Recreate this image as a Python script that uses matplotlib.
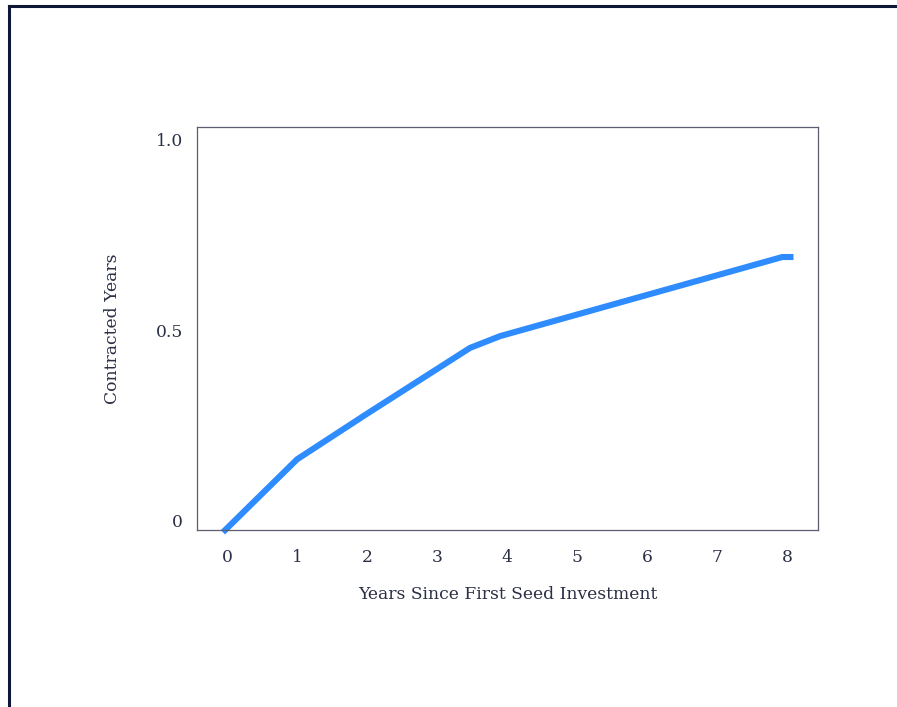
import matplotlib
matplotlib.use("Agg")
import matplotlib.pyplot as plt
from matplotlib.lines import Line2D

years = [-0.06, 1.0, 2.0, 3.47, 3.9, 7.93, 8.09]
contracted = [-0.032, 0.16, 0.28, 0.453, 0.484, 0.692, 0.692]
xticks = [0, 1, 2, 3, 4, 5, 6, 7, 8]
yticks = [0, 0.5, 1.0]
yticklabels = ["0", "0.5", "1.0"]

W, H = 897, 707
fig = plt.figure(figsize=(W / 100, H / 100), dpi=100)
text_color = "#2a2f45"
spine_color = "#5a5e70"
font = "DejaVu Serif"

ax = fig.add_axes([197 / W, 1 - 530 / H, (818 - 197) / W, (530 - 127) / H])
ax.plot(years, contracted, color="#2e8cff", lw=4.4, solid_capstyle="butt", solid_joinstyle="round", clip_on=False)
ax.set_xlim(-0.43, 8.44)
ax.set_ylim(-0.026, 1.034)
ax.set_xticks(xticks)
ax.set_xticklabels([str(t) for t in xticks], family=font, fontsize=12.3, color=text_color)
ax.set_yticks(yticks)
ax.set_yticklabels(yticklabels, family=font, fontsize=12.3, color=text_color)
ax.tick_params(length=0)
ax.tick_params(axis="x", pad=14)
ax.tick_params(axis="y", pad=10)
for s in ax.spines.values():
    s.set_color(spine_color)
    s.set_linewidth(0.9)
ax.set_xlabel("Years Since First Seed Investment", family=font, fontsize=12.3, color=text_color, labelpad=14)
ax.set_ylabel("Contracted Years", family=font, fontsize=12.3, color=text_color, labelpad=25)

frame_color = "#0e1733"
fig.add_artist(Line2D([8.5 / W, 8.5 / W], [0, 1 - 6 / H], transform=fig.transFigure, color=frame_color, lw=2.2))
fig.add_artist(Line2D([8.5 / W, 1], [1 - 6 / H, 1 - 6 / H], transform=fig.transFigure, color=frame_color, lw=2.2))

fig.savefig("out.png", dpi=100)
